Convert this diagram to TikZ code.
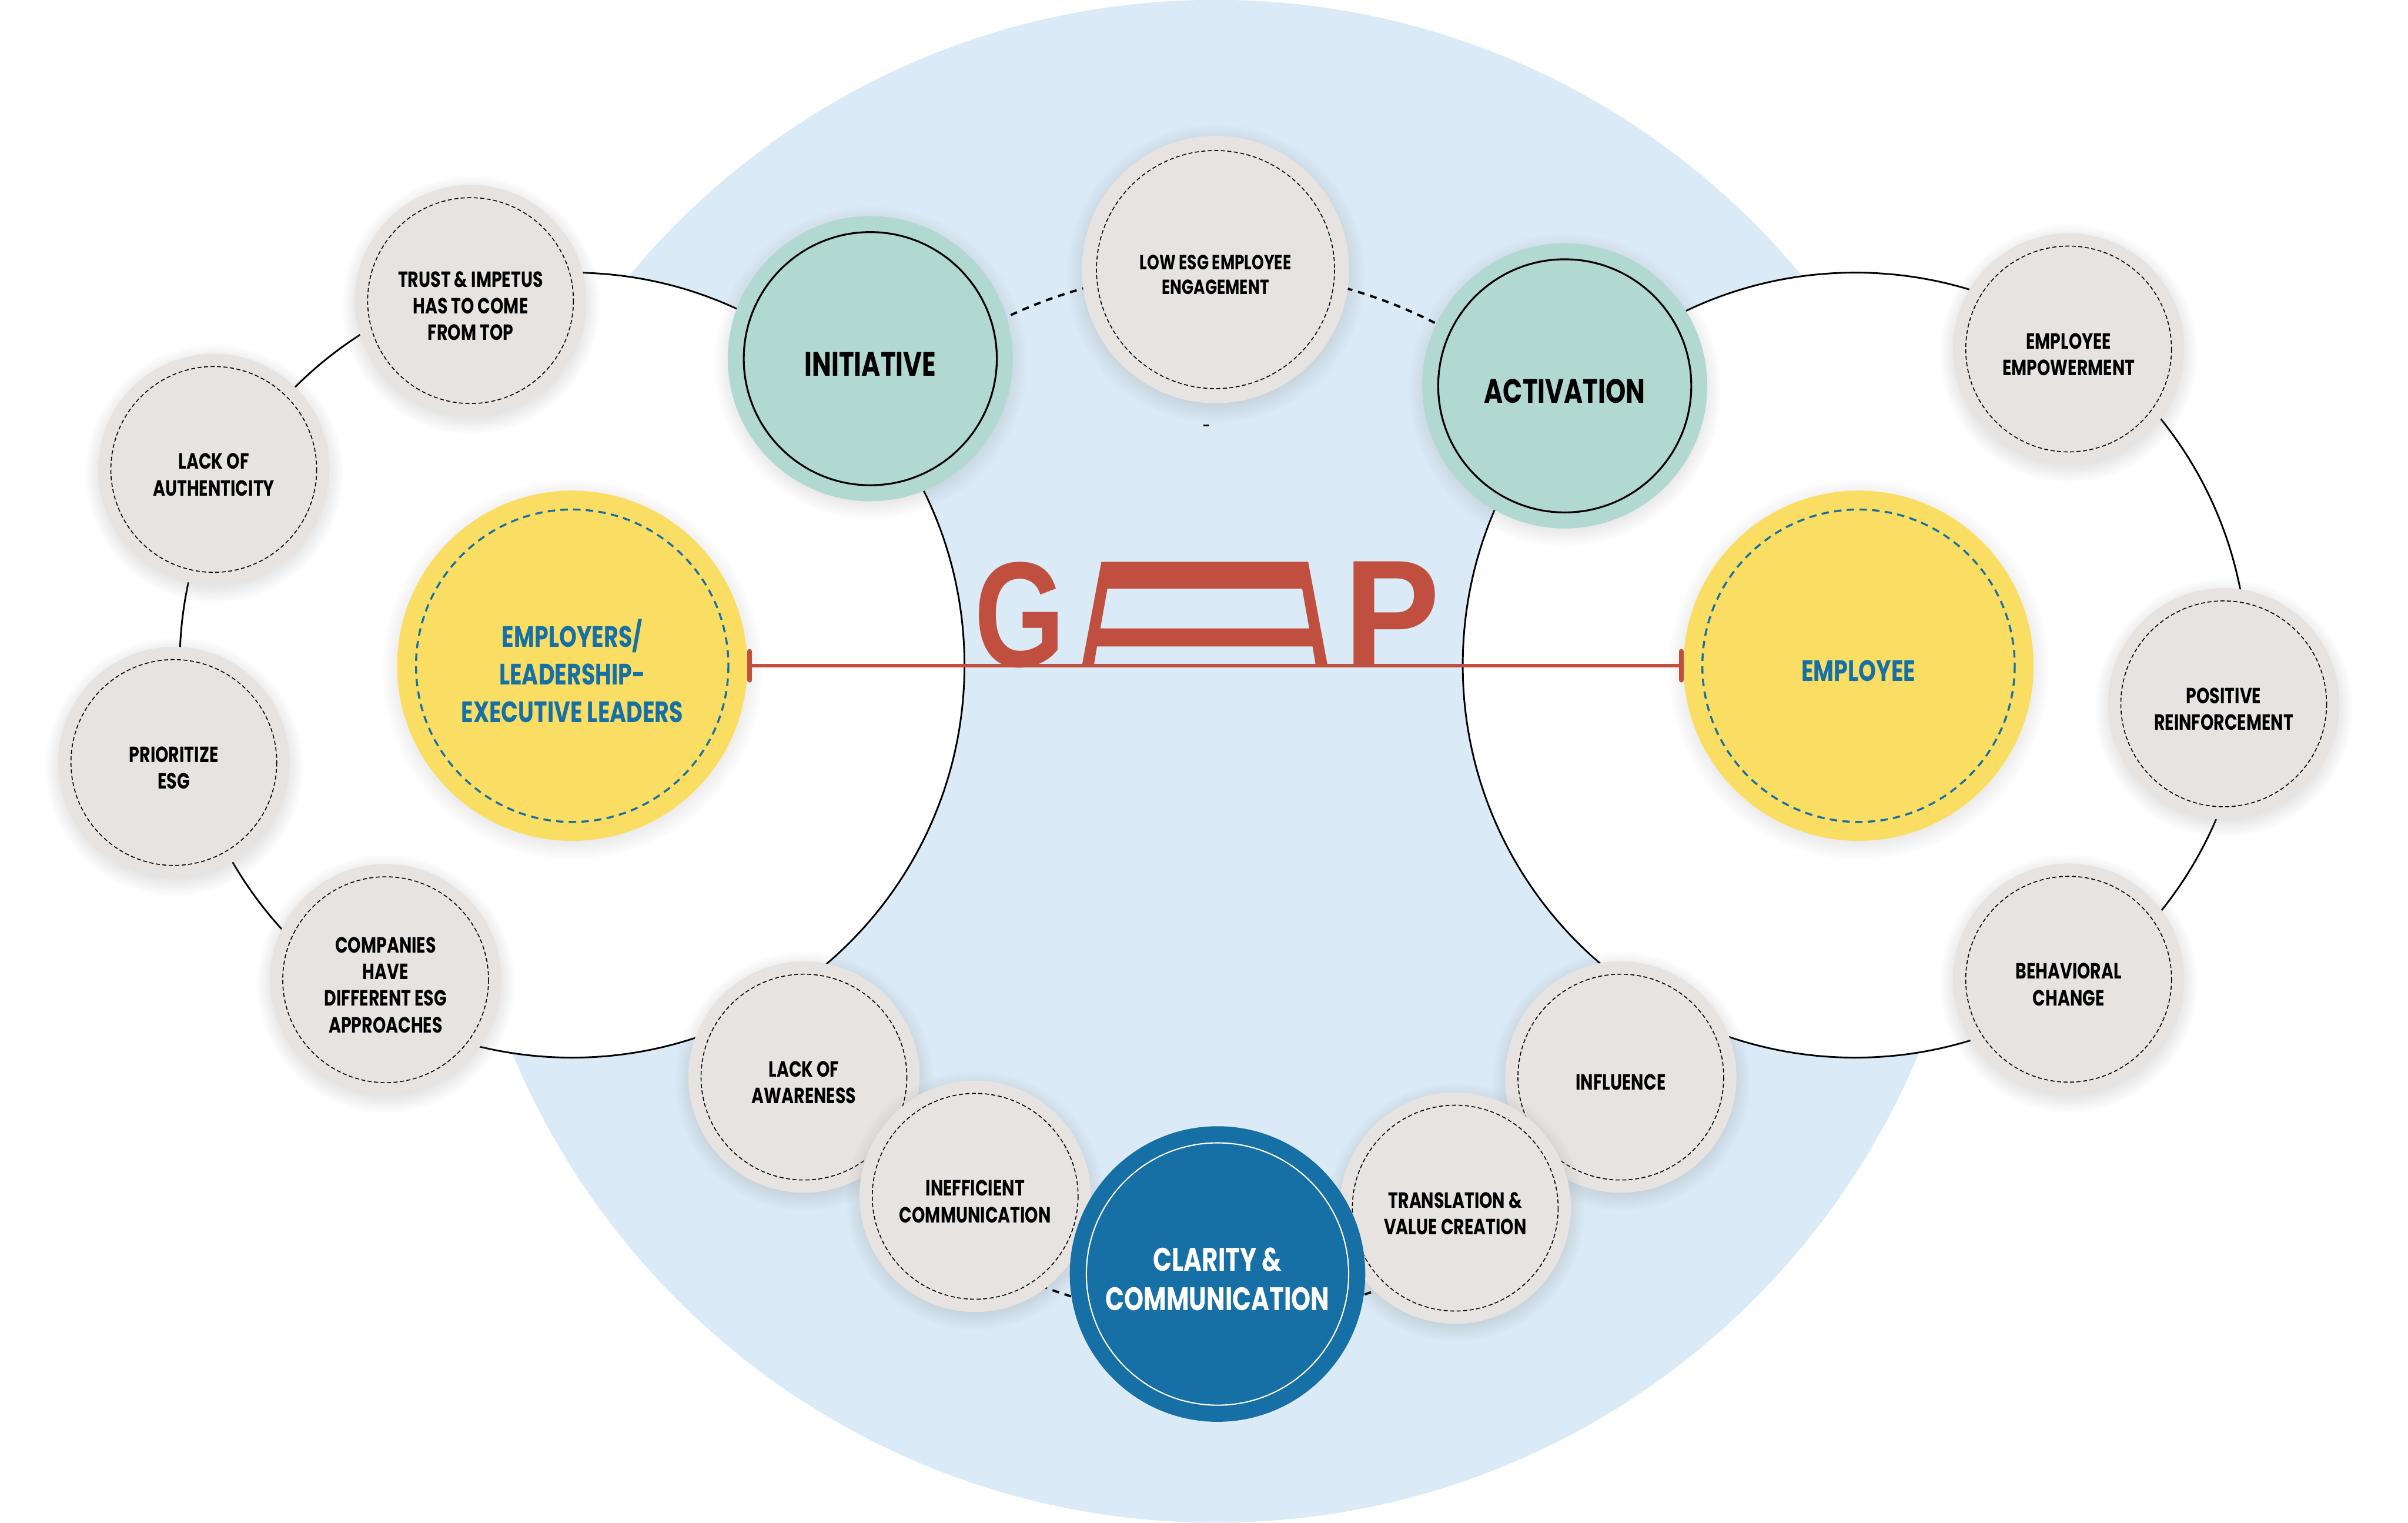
\documentclass[tikz,border=0pt]{standalone}
\usepackage{fontspec}
\usetikzlibrary{arrows.meta,shadows,fadings}
\newfontfamily\popfont{Poppins}[FakeStretch=0.76]
\newfontfamily\gapfont{Liberation Sans}
\newlength\pxu
\setlength\pxu{0.17417mm}
\definecolor{skyblue}{RGB}{218,234,246}
\definecolor{bubblegray}{RGB}{231,227,225}
\definecolor{tealfill}{RGB}{177,217,210}
\definecolor{sunyellow}{RGB}{250,222,99}
\definecolor{deepblue}{RGB}{22,111,165}
\definecolor{gapred}{RGB}{192,79,63}
\begin{document}
\begin{tikzpicture}[x=0.17417mm, y=-0.17417mm,
  softshadow/.style={circular drop shadow={shadow xshift=0pt, shadow yshift=-0.4mm,
    shadow scale=#1, opacity=0.22}},
  bubble/.style={circle, fill=bubblegray, inner sep=0pt, outer sep=0pt,
    minimum size=26.23mm, softshadow=1.12,
    path picture={\draw[line width=0.3pt, dash pattern=on 1.3pt off 0.8pt]
      (path picture bounding box.center) circle (67);}},
  bigbubble/.style={bubble, minimum size=30.31mm,
    path picture={\draw[line width=0.3pt, dash pattern=on 1.3pt off 0.8pt]
      (path picture bounding box.center) circle (77.5);}},
  tealbub/.style={circle, fill=tealfill, inner sep=0pt, outer sep=0pt,
    minimum size=32.33mm, softshadow=1.1,
    path picture={\draw[line width=0.6pt]
      (path picture bounding box.center) circle (82.4);}},
  sunbub/.style={circle, fill=sunyellow, inner sep=0pt, outer sep=0pt,
    minimum size=39.71mm, softshadow=1.09,
    path picture={\draw[deepblue, line width=0.65pt, dash pattern=on 2.4pt off 1.7pt]
      (path picture bounding box.center) circle (101.7);}},
  claritybub/.style={circle, fill=deepblue, inner sep=0pt, outer sep=0pt,
    minimum size=33.51mm,
    path picture={\draw[white, line width=0.4pt]
      (path picture bounding box.center) circle (85.4);}},
  ring/.style={circle, draw=black, line width=0.55pt, fill=white, inner sep=0pt,
    minimum size=89mm},
  ringdash/.style={black, line width=0.75pt, dash pattern=on 2.2pt off 1.9pt},
  bubbletext/.style={font=\popfont\bfseries\fontsize{7.1pt}{8.6pt}\selectfont,
    align=center, inner sep=0pt, yshift=-0.6mm},
  teamtext/.style={font=\popfont\bfseries\fontsize{9.5pt}{12.1pt}\selectfont,
    text=deepblue, align=center, inner sep=0pt, yshift=-0.6mm},
  gapline/.style={gapred, line width=0.37mm,
    {Bar[width=3.3mm,line width=0.5mm,round]}-{Bar[width=3.3mm,line width=0.5mm,round]}},
  gapletter/.style={gapred, inner sep=0pt, font=\gapfont\bfseries}]
  \useasboundingbox (0,0) rectangle (1568,991.3);
  \node[circle, fill=skyblue, inner sep=0pt, minimum size=172.65mm] (gapfield) at (791.5,495.6) {};
  \draw[ringdash] (791,517) ellipse [x radius=328, y radius=341];
  \draw[line width=0.6pt] (783.5,277) -- (787.5,277);
  \node[ring] (leftring) at (372.5,433) {};
  \node[ring] (rightring) at (1208,433) {};
  \node[sunbub] (employers) at (372.6,433.4) {};
  \node[teamtext] (employers-text) at (employers) {EMPLOYERS/\\LEADERSHIP-\\EXECUTIVE LEADERS};
  \node[sunbub] (employee) at (1210.2,433.4) {};
  \node[teamtext] (employee-text) at (employee) {EMPLOYEE};
  \node[tealbub] (initiative) at (566.7,233.5) {};
  \node[tealbub] (activation) at (1018.9,251.2) {};
  \foreach \nm in {initiative,activation} {
    \node[bubbletext, font=\popfont\bfseries\fontsize{10.9pt}{13pt}\selectfont]
      (\nm-text) at (\nm) {\MakeUppercase{\nm}};
  }
  \node[bigbubble] (lowesg) at (791.5,175.5) {};
  \node[bubbletext, font=\popfont\bfseries\fontsize{6.6pt}{7.9pt}\selectfont]
    (lowesg-text) at (lowesg) {LOW ESG EMPLOYEE\\ENGAGEMENT};
  \foreach \nm/\xx/\yy/\txt in {
      trust/306.4/195.7/{TRUST \& IMPETUS\\HAS TO COME\\FROM TOP},
      authenticity/139.2/305.6/{LACK OF\\AUTHENTICITY},
      prioritize/113.2/496.4/{PRIORITIZE\\ESG},
      companies/251.1/637.8/{COMPANIES\\HAVE\\DIFFERENT ESG\\APPROACHES},
      awareness/523.5/701.2/{LACK OF\\AWARENESS},
      inefficient/635/778.8/{INEFFICIENT\\COMMUNICATION},
      influence/1055.4/701.2/{INFLUENCE},
      translation/947.6/786.5/{TRANSLATION \&\\VALUE CREATION},
      empowerment/1347/227.2/{EMPLOYEE\\EMPOWERMENT},
      positive/1448/458.2/{POSITIVE\\REINFORCEMENT},
      behavioral/1347/637.5/{BEHAVIORAL\\CHANGE}} {
    \node[bubble] (\nm) at (\xx,\yy) {};
    \node[bubbletext] (\nm-text) at (\nm) {\txt};
  }
  \node[claritybub] (clarity) at (792.8,829.4) {};
  \node[bubbletext, text=white, font=\popfont\bfseries\fontsize{10.5pt}{12.7pt}\selectfont]
    (clarity-text) at (clarity) {CLARITY \&\\COMMUNICATION};
  \draw[gapline] (employers) -- (employee);
  \node[gapletter, anchor=base] (gapg) at (664.2,434) {\resizebox{59\pxu}{68\pxu}{G}};
  \node[gapletter, anchor=base] (gapp) at (906.5,434) {\resizebox{62.4\pxu}{68.3\pxu}{P}};
  \fill[gapred, even odd rule] (717.2,365.7) -- (851.8,365.7) -- (864.6,434) -- (704.4,434) -- cycle
    (721.1,383.2) -- (847.9,383.2) -- (852.5,409.1) -- (716.5,409.1) -- cycle
    (714.3,420.9) -- (854.7,420.9) -- (856.7,433) -- (712.3,433) -- cycle;
\end{tikzpicture}
\end{document}
